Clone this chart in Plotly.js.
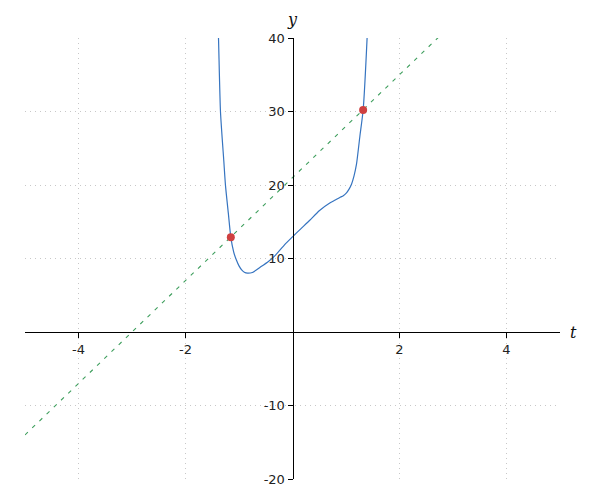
<!DOCTYPE html>
<html>
<head>
<meta charset="utf-8">
<script src="https://cdn.plot.ly/plotly-3.0.1.min.js"></script>
<style>html,body{margin:0;padding:0;background:#fff;}#chart{width:600px;height:500px;}</style>
</head>
<body>
<div id="chart"></div>
<script>
// Curve values
var curveT = [-1.41, -1.383, -1.346, -1.284, -1.252, -1.20, -1.153, -1.10, -1.047, -1.00, -0.95, -0.90, -0.841, -0.75, -0.611, -0.45, -0.331, -0.15, 0.0, 0.15, 0.323, 0.5, 0.697, 0.80, 0.884, 0.95, 1.009, 1.06, 1.103, 1.15, 1.196, 1.26, 1.32, 1.394, 1.41];
var curveY = [46, 39.95, 29.93, 23.27, 19.88, 16.2, 12.91, 10.9, 9.75, 9.0, 8.45, 8.12, 8.0, 8.1, 8.78, 9.6, 10.35, 11.86, 12.95, 14.0, 15.2, 16.5, 17.55, 17.95, 18.3, 18.55, 18.93, 19.47, 20.11, 21.24, 22.83, 26.67, 30.16, 39.95, 43];
// Dashed line endpoints
var lineT = [-5, 3];
var lineY = [-14, 42];
// Intersection points
var dotT = [-1.153, 1.32];
var dotY = [12.9, 30.2];
// Ticks
var xTicks = [-4, -2, 2, 4];
var xTickText = ['-4', '-2', '2', '4'];
var yTicks = [-20, -10, 10, 20, 30, 40];
var yTickText = ['-20', '-10', '10', '20', '30', '40'];

var traces = [
  {x: lineT, y: lineY, mode: 'lines', line: {color: '#3d9e5c', width: 1.1, dash: '4px,6px'}, hoverinfo: 'skip'},
  {x: curveT, y: curveY, mode: 'lines', line: {color: '#3674c0', width: 1.2, shape: 'spline', smoothing: 0.6}, hoverinfo: 'skip'},
  {x: dotT, y: dotY, mode: 'markers', marker: {color: '#cf4040', size: 8}, hoverinfo: 'skip'}
];

var fontTick = {family: 'DejaVu Sans, sans-serif', size: 13, color: '#222'};
var gridCol = '#c8c8c8';
var layout = {
  width: 600, height: 500,
  margin: {l: 25, r: 40, t: 38, b: 21},
  paper_bgcolor: '#fff', plot_bgcolor: '#fff',
  showlegend: false,
  xaxis: {
    range: [-5, 5], anchor: 'free', position: 1/3,
    tickvals: xTicks, ticktext: xTickText, tickfont: fontTick,
    ticks: 'outside', ticklen: 5, tickcolor: '#000', tickwidth: 1,
    showline: true, linecolor: '#000', linewidth: 1,
    showgrid: true, gridcolor: gridCol, griddash: '1px,4px', gridwidth: 1,
    zeroline: false, fixedrange: true
  },
  yaxis: {
    range: [-20, 40], anchor: 'free', position: 0.5,
    tickvals: yTicks, ticktext: yTickText, tickfont: fontTick,
    ticks: 'outside', ticklen: 5, tickcolor: '#000', tickwidth: 1,
    showline: true, linecolor: '#000', linewidth: 1,
    showgrid: true, gridcolor: gridCol, griddash: '1px,4px', gridwidth: 1,
    zeroline: false, fixedrange: true
  },
  annotations: [
    {text: 'y', xref: 'paper', yref: 'paper', x: 0.5, y: 1, xanchor: 'center', yanchor: 'middle', yshift: 19, showarrow: false,
     font: {family: 'DejaVu Serif, serif', size: 16, color: '#111', style: 'italic'}},
    {text: 't', xref: 'paper', yref: 'paper', x: 1, y: 1/3, xanchor: 'center', yanchor: 'middle', xshift: 13, showarrow: false,
     font: {family: 'DejaVu Serif, serif', size: 16, color: '#111', style: 'italic'}}
  ]
};
Plotly.newPlot('chart', traces, layout, {displayModeBar: false, staticPlot: true});
</script>
</body>
</html>
